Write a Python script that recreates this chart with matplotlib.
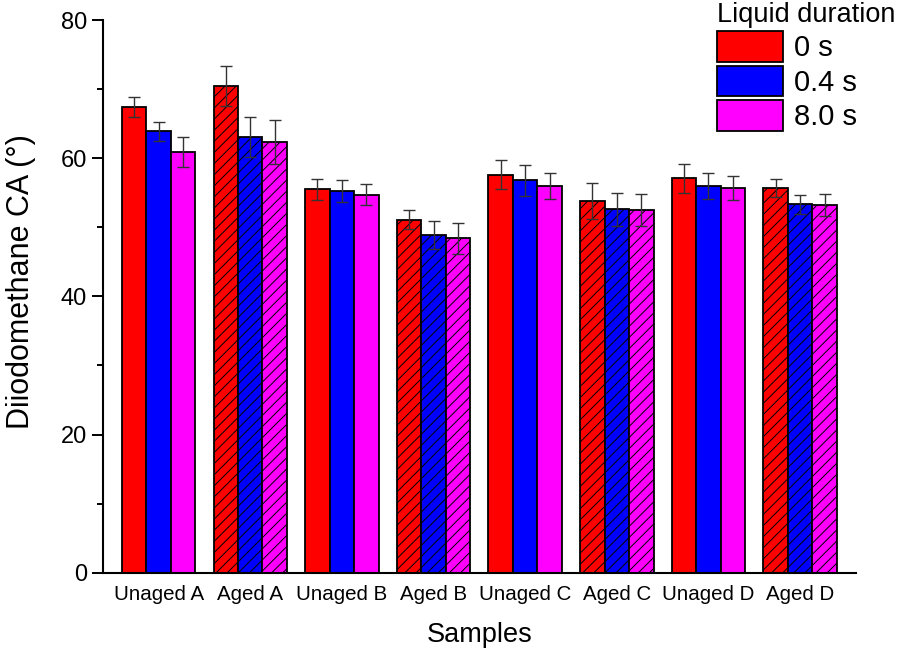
import numpy as np
import matplotlib
matplotlib.use("Agg")
import matplotlib.pyplot as plt
from matplotlib.patches import Patch

plt.rcParams['font.family'] = ['Liberation Sans', 'DejaVu Sans']
plt.rcParams['hatch.linewidth'] = 0.7

samples = ["Unaged A", "Aged A", "Unaged B", "Aged B", "Unaged C", "Aged C", "Unaged D", "Aged D"]
durations = ["0 s", "0.4 s", "8.0 s"]
colors = ["#ff0000", "#0000ff", "#ff00ff"]

ca_0s = [67.4, 70.5, 55.5, 51.1, 57.6, 53.8, 57.1, 55.7]
ca_04s = [63.9, 63.1, 55.2, 48.9, 56.8, 52.6, 56.0, 53.3]
ca_8s = [60.9, 62.4, 54.7, 48.4, 56.0, 52.5, 55.7, 53.2]
err_0s = [1.4, 2.9, 1.5, 1.4, 2.1, 2.6, 2.1, 1.3]
err_04s = [1.4, 2.9, 1.6, 2.0, 2.2, 2.4, 1.9, 1.4]
err_8s = [2.2, 3.2, 1.5, 2.2, 1.9, 2.3, 1.7, 1.6]

values = [ca_0s, ca_04s, ca_8s]
errors = [err_0s, err_04s, err_8s]

fig = plt.figure(figsize=(8.98, 6.5), dpi=100)
ax = fig.add_axes([0.1144, 0.1189, 0.9532 - 0.1144, 0.9692 - 0.1189])

x = np.arange(len(samples))
w = 0.267
for j in range(3):
    pos = x + (j - 1) * w
    for i in range(len(samples)):
        hatch = "///" if i % 2 == 1 else None
        ax.bar(pos[i], values[j][i], w, color=colors[j], edgecolor="black",
               linewidth=1.3, hatch=hatch, zorder=2)
    ax.errorbar(pos, values[j], yerr=errors[j], fmt="none", ecolor="#333333",
                elinewidth=1.0, capsize=4, capthick=1.0, zorder=3)

ax.set_xlim(-0.61, 7.61)
ax.set_ylim(0, 80)
ax.set_yticks([0, 20, 40, 60, 80])
ax.set_yticks([10, 30, 50, 70], minor=True)
ax.set_xticks(x)
ax.set_xticklabels(samples, fontsize=14.8)
ax.tick_params(axis="x", length=0, pad=9)
ax.tick_params(axis="y", which="major", length=8, width=1.4, labelsize=17, direction="out")
ax.tick_params(axis="y", which="minor", length=4.5, width=1.4, direction="out")
for s in ["top", "right"]:
    ax.spines[s].set_visible(False)
for s in ["left", "bottom"]:
    ax.spines[s].set_linewidth(1.5)

ax.set_xlabel("Samples", fontsize=19.5, labelpad=13)
ax.set_ylabel("Diiodomethane CA (°)", fontsize=22)
ax.yaxis.set_label_coords(-0.088, 0.527)

handles = [Patch(facecolor=c, edgecolor="black", linewidth=1.3) for c in colors]
fig.legend(handles, durations, loc="upper left", bbox_to_anchor=(717 / 898, 0.997),
           frameon=False, fontsize=21, title="Liquid duration", title_fontsize=19.5,
           handlelength=2.25, handleheight=1.22, labelspacing=0.12, handletextpad=0.4,
           borderpad=0, borderaxespad=0, alignment="left")

fig.savefig("out.png", dpi=100)
